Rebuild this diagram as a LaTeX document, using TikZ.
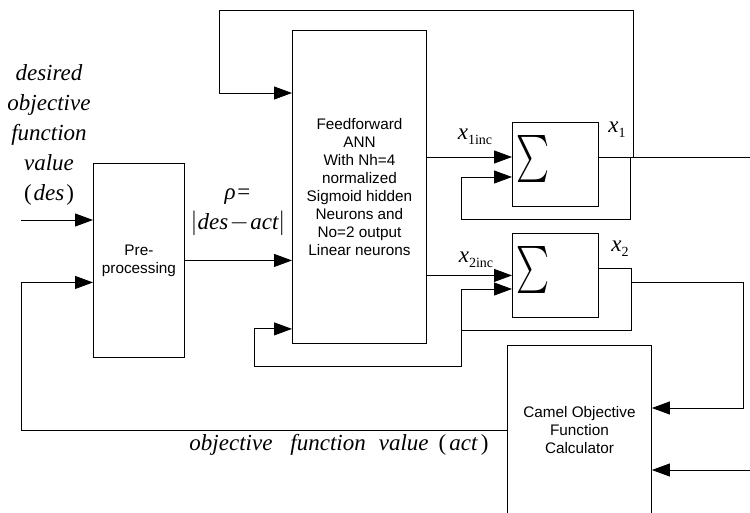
\documentclass[tikz,border=0pt]{standalone}
\usepackage{fontspec}
\usepackage{graphicx}
\setmainfont{Liberation Serif}
\setsansfont{Liberation Sans}
\usetikzlibrary{arrows.meta,positioning,calc}
\tikzset{
  blockbox/.style={draw, line width=0.9pt, anchor=north west, inner sep=0pt, align=center, font=\sffamily\fontsize{15.3}{18}\selectfont},
  sumbox/.style={draw, line width=0.9pt, anchor=north west, inner sep=0pt, minimum width=86pt, minimum height=84pt},
  wire/.style={line width=0.9pt},
  itlabel/.style={font=\fontsize{23}{30}\selectfont\itshape, align=center, inner sep=0pt},
}
\newcommand{\xinc}[1]{\textit{x}\raisebox{-5pt}{\fontsize{14}{14}\selectfont\upshape #1}}

\begin{document}
\begin{tikzpicture}[x=1pt, y=-1pt, >={Triangle[length=18pt,width=13pt]}]
    \useasboundingbox (0,0) rectangle (750,513);
    \clip (0,0) rectangle (750,513);
    % blocks
    \node[blockbox, minimum width=91pt, minimum height=194pt] (pre) at (93,163) {Pre-\\processing};
    \node[blockbox, minimum width=134pt, minimum height=313pt] (ann) at (292,30) {Feedforward\\ANN\\With Nh=4\\normalized\\Sigmoid hidden\\Neurons and\\No=2 output\\Linear neurons};
    \node[sumbox] (sumA) at (512,122) {};
    \node[sumbox] (sumB) at (512,233) {};
    \node[blockbox, minimum width=144pt, minimum height=170pt] (camel) at (507,345) {Camel Objective\\Function\\Calculator};
    \node (sigA) at ($(sumA.center)+(-22,-5.5)$) {\resizebox*{33pt}{47pt}{$\sum$}};
    \node (sigB) at ($(sumB.center)+(-22,-5.5)$) {\resizebox*{33pt}{47pt}{$\sum$}};
    % points on the wires
    \coordinate (desIn) at (21,220);
    \coordinate (preIn2) at ($(pre.west)+(0,22)$);
    \coordinate (annIn1) at ($(ann.north west)+(0,63)$);
    \coordinate (annIn3) at ($(ann.south west)+(0,-15)$);
    \coordinate (inA1) at ($(sumA.north west)+(0,35)$);
    \coordinate (inA2) at ($(sumA.north west)+(0,55)$);
    \coordinate (outA) at ($(sumA.north east)+(0,35)$);
    \coordinate (inB2) at ($(sumB.north west)+(0,56)$);
    \coordinate (outB) at ($(sumB.north east)+(0,35)$);
    \coordinate (camIn1) at ($(camel.north east)+(0,63)$);
    \coordinate (camIn2) at ($(camel.north east)+(0,125)$);
    \coordinate (topL) at (219,10);
    \coordinate (topR) at (633,10);
    \coordinate (exitA) at (750,157);
    \coordinate (exitB) at (750,470);
    \coordinate (loopA) at (630,219);
    \coordinate (loopAL) at (461,219);
    \coordinate (loopB) at (631,330);
    \coordinate (loopBL) at (461,330);
    \coordinate (loopC) at (254,366);
    \coordinate (loopD) at (743,282);
    % wires
    \draw[wire, ->] (desIn) -- (desIn -| pre.west);
    \draw[wire, ->] (pre.east) -- (pre.east -| ann.west);
    \draw[wire, ->] (camel.west) -| (desIn |- preIn2) -- (preIn2);
    \draw[wire, ->] (topR |- outA) -- (topR) -- (topL) |- (annIn1);
    \draw[wire, ->] (inA1 -| ann.east) -- (inA1);
    \draw[wire] (outA) -- (exitA);
    \draw[wire, ->] (outA -| loopA) -- (loopA) -- (loopAL) |- (inA2);
    \draw[wire, ->] (sumB.west -| ann.east) -- (sumB.west);
    \draw[wire, ->] (outB) -| (loopB) -- (loopBL) |- (inB2);
    \draw[wire, ->] (loopBL) |- (loopC) |- (annIn3);
    \draw[wire, ->] (loopB |- loopD) -- (loopD) |- (camIn1);
    \draw[wire, ->] (exitB) -- (camIn2);
    % labels
    \node[itlabel] (desLabel) at (49,135) {desired\\objective\\function\\value\\\textup{(}\hspace{2pt}des\hspace{2pt}\textup{)}};
    \node[itlabel] (rhoLabel) at (238,212) {ρ=\\$\bigl|$des$\mkern1mu-\mkern1mu$act$\bigr|$};
    \node[font=\fontsize{23}{23}\selectfont] (x1incLabel) at (475,137) {\xinc{1inc}};
    \node[font=\fontsize{23}{23}\selectfont] (x2incLabel) at (476,260) {\xinc{2inc}};
    \node[font=\fontsize{23}{23}\selectfont] (x1Label) at (617,130) {\xinc{1}};
    \node[font=\fontsize{23}{23}\selectfont] (x2Label) at (620,249) {\xinc{2}};
    \node[itlabel] (actLabel) at (339,445) {objective\hspace{18pt}function\hspace{13pt}value\hspace{10pt}\textup{(}\hspace{3pt}act\hspace{3pt}\textup{)}};
\end{tikzpicture}
\end{document}
